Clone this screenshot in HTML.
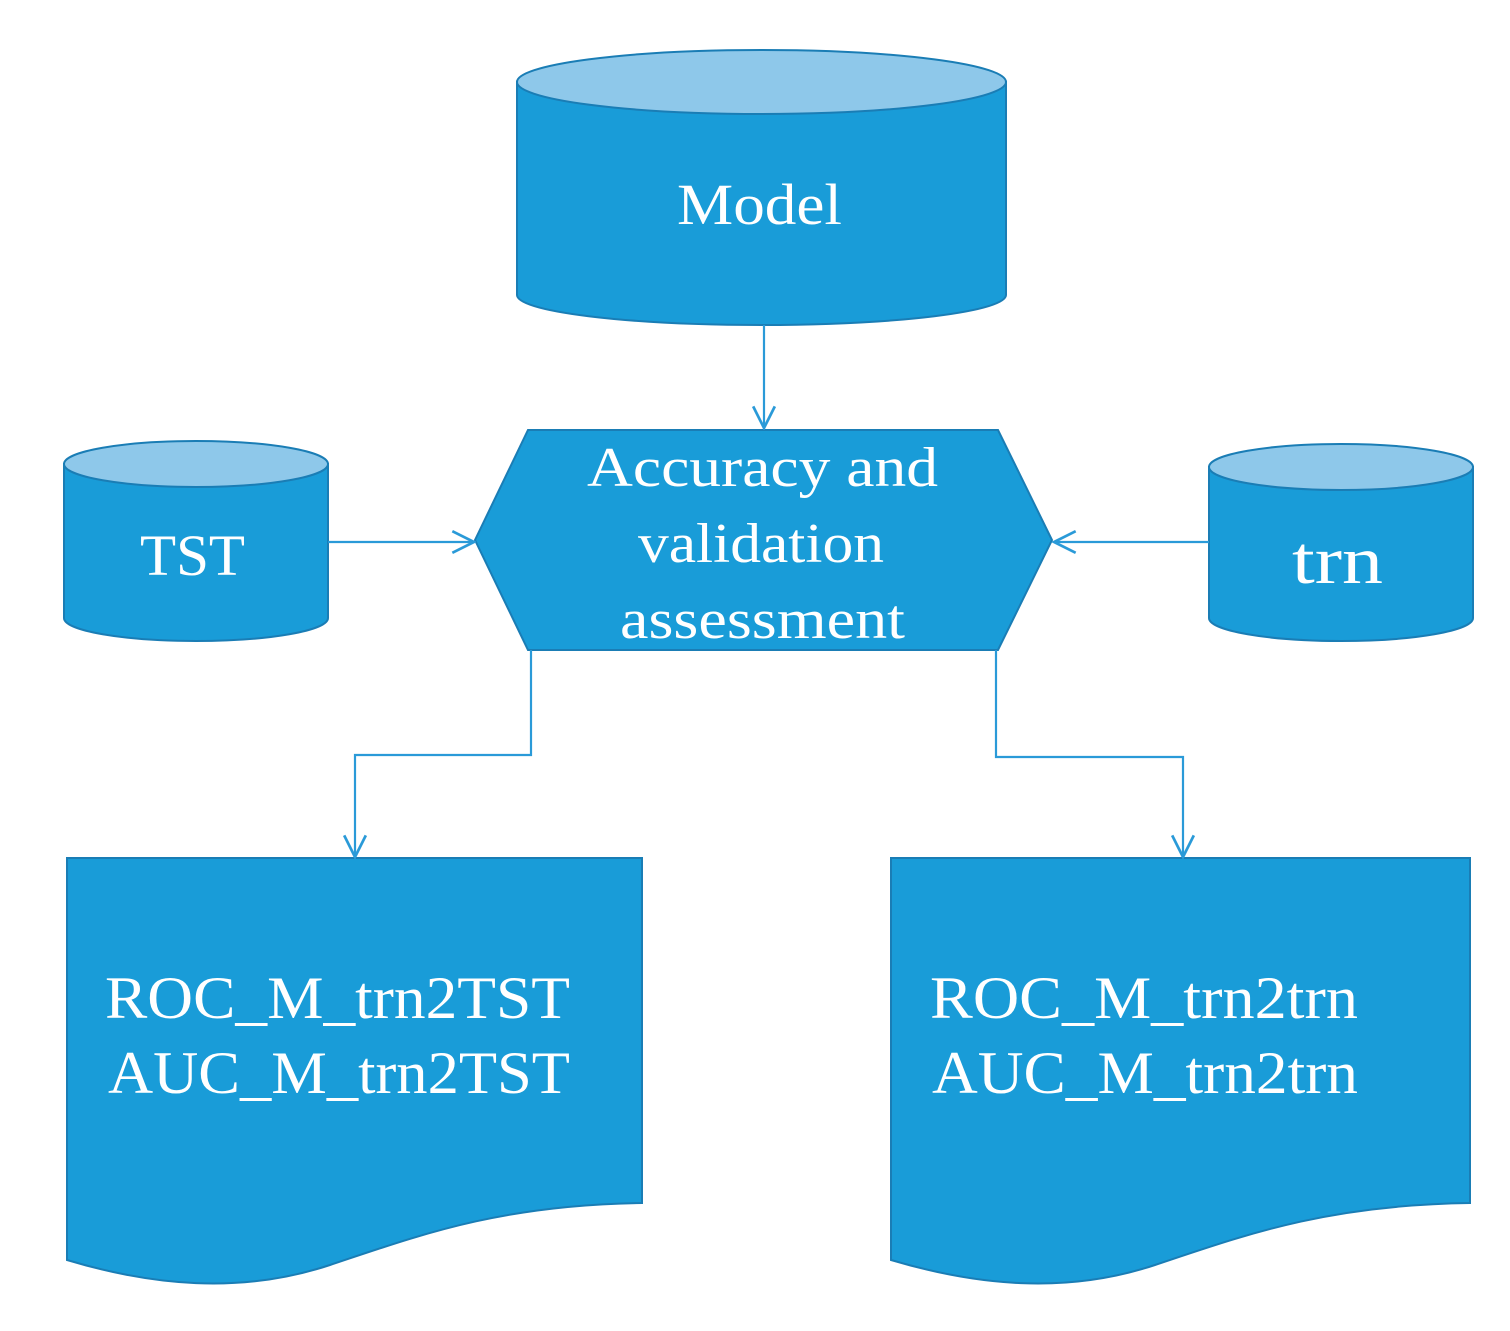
<!DOCTYPE html>
<html><head><meta charset="utf-8"><style>html,body{margin:0;padding:0;background:#fff}svg{display:block}</style></head>
<body>
<svg width="1510" height="1331" viewBox="0 0 1510 1331" xmlns="http://www.w3.org/2000/svg">
<defs>
<marker id="ah2" viewBox="0 0 24 24" refX="22" refY="12" markerWidth="26" markerHeight="26" markerUnits="userSpaceOnUse" orient="auto">
<path d="M2,2 L22,12 L2,22" fill="none" stroke="#2a9ad8" stroke-width="2.5"/>
</marker>
</defs>
<g stroke="#1a7db5" stroke-width="2">
<path d="M517,82 L517,295 A244.5,30 0 0 0 1006,295 L1006,82 Z" fill="#199cd8"/>
<ellipse cx="761.5" cy="82" rx="244.5" ry="32" fill="#8ec8ea"/>
<path d="M64,464 L64,618 A132,23 0 0 0 328,618 L328,464 Z" fill="#199cd8"/>
<ellipse cx="196" cy="464" rx="132" ry="23" fill="#8ec8ea"/>
<path d="M1209,467 L1209,618 A132,23 0 0 0 1473,618 L1473,467 Z" fill="#199cd8"/>
<ellipse cx="1341" cy="467" rx="132" ry="23" fill="#8ec8ea"/>
<polygon points="475,540 528,430 998,430 1052,540 998,650 528,650" fill="#199cd8"/>
<path d="M67,858 L642,858 L642,1203 C500,1205 420,1235 330,1265 C240,1295 150,1285 67,1260 Z" fill="#199cd8"/>
<path d="M891,858 L1470,858 L1470,1203 C1326,1205 1245,1235 1155,1265 C1065,1295 975,1285 891,1260 Z" fill="#199cd8"/>
</g>
<g fill="none" stroke="#2a9ad8" stroke-width="2.2">
<path d="M764,325 L764,428" marker-end="url(#ah2)"/>
<path d="M328,542 L474,542" marker-end="url(#ah2)"/>
<path d="M1209,542 L1054,542" marker-end="url(#ah2)"/>
<path d="M531,650 L531,755 L355,755 L355,857" marker-end="url(#ah2)"/>
<path d="M996,650 L996,757 L1183,757 L1183,857" marker-end="url(#ah2)"/>
</g>
<g fill="#fff" font-family="Liberation Serif, serif" lengthAdjust="spacingAndGlyphs">
<text x="677" y="224" font-size="58" textLength="165" lengthAdjust="spacingAndGlyphs">Model</text>
<text x="140" y="575" font-size="58" textLength="105" lengthAdjust="spacingAndGlyphs">TST</text>
<text x="1292" y="583" font-size="68" textLength="91" lengthAdjust="spacingAndGlyphs">trn</text>
<text x="587" y="486" font-size="56" textLength="351" lengthAdjust="spacingAndGlyphs">Accuracy and</text>
<text x="638" y="562" font-size="56" textLength="246" lengthAdjust="spacingAndGlyphs">validation</text>
<text x="620" y="638" font-size="56" textLength="285" lengthAdjust="spacingAndGlyphs">assessment</text>
<text x="105" y="1018" font-size="60" textLength="465" lengthAdjust="spacingAndGlyphs">ROC_M_trn2TST</text>
<text x="108" y="1093" font-size="60" textLength="462" lengthAdjust="spacingAndGlyphs">AUC_M_trn2TST</text>
<text x="930" y="1018" font-size="60" textLength="428" lengthAdjust="spacingAndGlyphs">ROC_M_trn2trn</text>
<text x="932" y="1093" font-size="60" textLength="426" lengthAdjust="spacingAndGlyphs">AUC_M_trn2trn</text>
</g>
</svg>
</body></html>
